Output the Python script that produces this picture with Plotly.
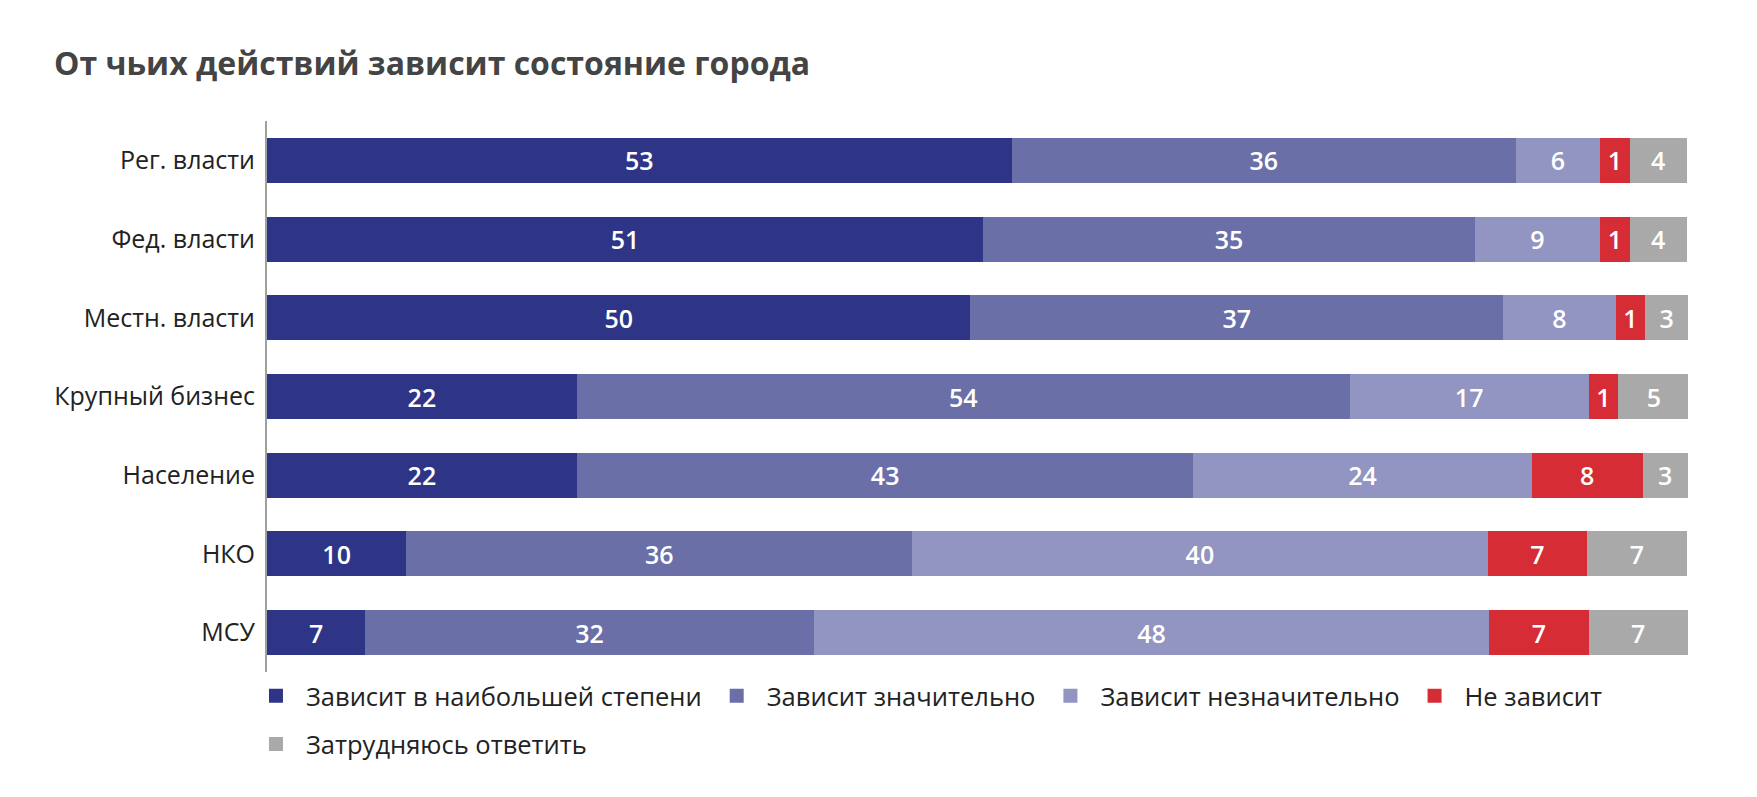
import plotly.graph_objects as go

categories = ["Рег. власти", "Фед. власти", "Местн. власти", "Крупный бизнес",
              "Население", "НКО", "МСУ"]

series_names = ["Зависит в наибольшей степени", "Зависит значительно",
                "Зависит незначительно", "Не зависит", "Затрудняюсь ответить"]

# bar lengths (share of row, %)
v_most = [52.4, 50.4, 49.5, 21.8, 21.8, 9.8, 6.9]
v_signif = [35.5, 34.6, 37.5, 54.4, 43.4, 35.6, 31.6]
v_insig = [5.9, 8.8, 7.9, 16.8, 23.8, 40.5, 47.5]
v_not = [2.1, 2.1, 2.1, 2.1, 7.8, 7.0, 7.0]
v_hard = [4.0, 4.0, 3.0, 5.0, 3.2, 7.0, 7.0]

# printed labels
t_most = [53, 51, 50, 22, 22, 10, 7]
t_signif = [36, 35, 37, 54, 43, 36, 32]
t_insig = [6, 9, 8, 17, 24, 40, 48]
t_not = [1, 1, 1, 1, 8, 7, 7]
t_hard = [4, 4, 3, 5, 3, 7, 7]

colors = ["#2E3586", "#6A6FA8", "#9294C1", "#D52C35", "#A9A9A9"]

values = [v_most, v_signif, v_insig, v_not, v_hard]
texts = [t_most, t_signif, t_insig, t_not, t_hard]
legend_ids = ["legend", "legend", "legend", "legend", "legend2"]

# page body has an 8px margin, so the figure is 16px smaller than the window
W, H = 1741, 781

fig = go.Figure()
for name, vals, txt, col in zip(series_names, values, texts, colors):
    fig.add_trace(go.Bar(
        y=categories, x=vals, name=name, orientation="h",
        marker=dict(color=col, line=dict(width=0)),
        text=[str(t) for t in txt],
        textposition="inside", insidetextanchor="middle",
        textangle=0, constraintext="none",
        textfont=dict(family="Open Sans", size=25, color="white", weight=600),
        hoverinfo="x+y+name", showlegend=False, legendgroup=name,
    ))

# legend entries (larger swatches than the default bar icon)
for name, col, lg in zip(series_names, colors, legend_ids):
    fig.add_trace(go.Scatter(
        x=[None], y=[None], mode="markers", name=name, legend=lg,
        legendgroup=name,
        marker=dict(symbol="square", size=18, color=col,
                    line=dict(color=col, width=2)),
    ))

legend_common = dict(orientation="h", x=-0.0148, xanchor="left", yanchor="top",
                     itemwidth=50,
                     font=dict(family="Open Sans", size=25.5, color="#222222"),
                     traceorder="normal", itemsizing="constant",
                     bgcolor="rgba(0,0,0,0)")

fig.update_layout(
    barmode="stack",
    bargap=0.43,
    width=W, height=H,
    paper_bgcolor="white", plot_bgcolor="white",
    margin=dict(l=259, r=61, t=113, b=117, autoexpand=False),
    title=dict(text="<b>От чьих действий зависит состояние города</b>",
               x=46 / W, xanchor="left", xref="container",
               y=1 - 56 / H, yanchor="middle", yref="container",
               font=dict(family="Open Sans", size=32, color="#444444")),
    font=dict(family="Open Sans", color="#222222"),
    xaxis=dict(range=[0, 100], showgrid=False, showticklabels=False,
               zeroline=False, showline=False, fixedrange=True),
    yaxis=dict(autorange="reversed", showgrid=False, showline=True,
               linecolor="#A0A0A0", linewidth=2, ticks="",
               ticklabelstandoff=5, automargin=False,
               tickfont=dict(family="Open Sans", size=25, color="#222222")),
    legend=dict(y=-0.001, **legend_common),
    legend2=dict(y=-0.089, **legend_common),
    showlegend=True,
)

fig.write_html("out.html")
